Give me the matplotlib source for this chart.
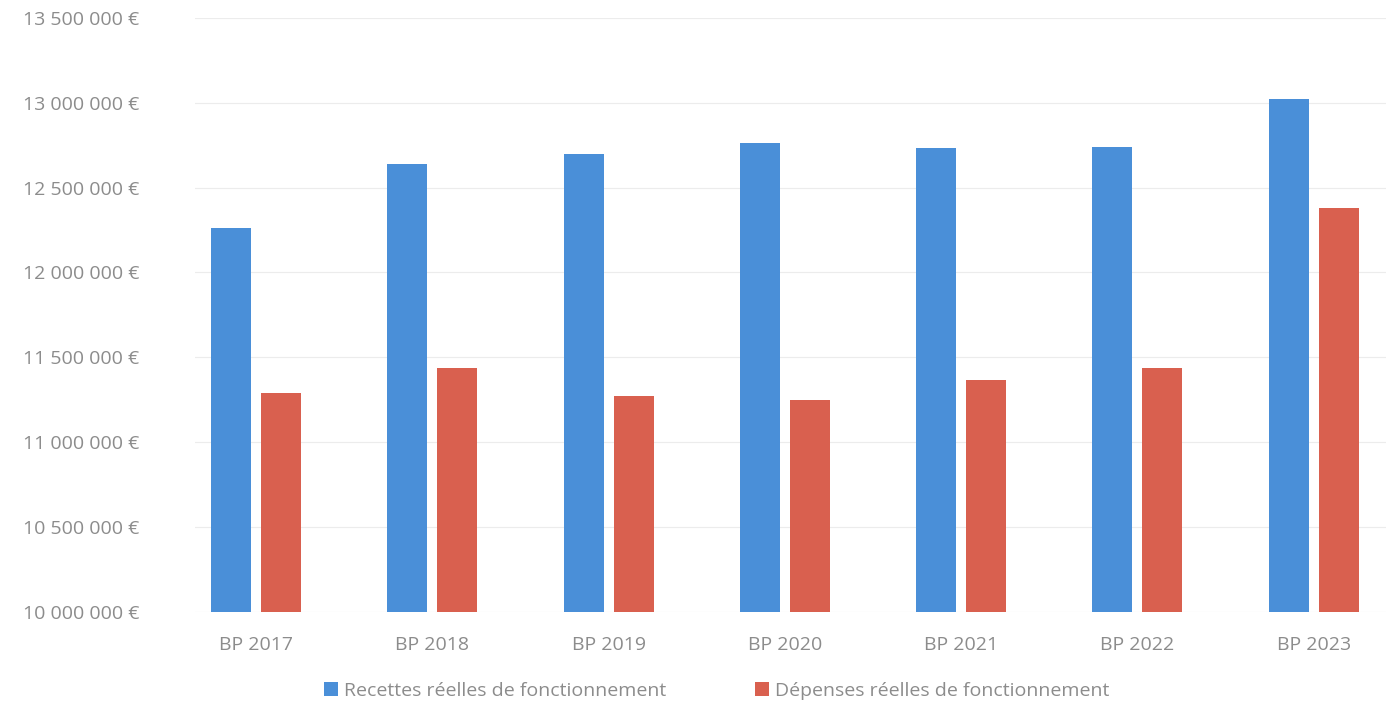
import matplotlib
matplotlib.use("Agg")
import matplotlib.pyplot as plt
from matplotlib.ticker import FuncFormatter
import numpy as np

plt.rcParams['font.family'] = ['Open Sans', 'DejaVu Sans']

## data
years = ["BP 2017", "BP 2018", "BP 2019", "BP 2020", "BP 2021", "BP 2022", "BP 2023"]
recettes = [12260000, 12640000, 12700000, 12760000, 12730000, 12740000, 13020000]
depenses = [11290000, 11435000, 11270000, 11250000, 11365000, 11440000, 12380000]
series_names = ["Recettes réelles de fonctionnement", "Dépenses réelles de fonctionnement"]
##

blue = '#4a8fd8'
red = '#d9604f'
text_col = '#8c8c8c'

fig = plt.figure(figsize=(13.86, 7.10), dpi=100)
ax = fig.add_axes([0.1407, 0.138, 0.8593, 0.837])

x = np.arange(len(years))
w = 0.227
ax.bar(x - 0.142, recettes, w, color=blue, label=series_names[0], zorder=2)
ax.bar(x + 0.142, depenses, w, color=red, label=series_names[1], zorder=2)

ax.set_xlim(-0.346, 6.41)
ax.set_ylim(10000000, 13500000)
ax.set_yticks(np.arange(10000000, 13500001, 500000))
ax.yaxis.set_major_formatter(FuncFormatter(lambda v, p: f"{v:,.0f}".replace(',', ' ') + " €"))
ax.set_xticks(x)
ax.set_xticklabels(years)

ax.grid(axis='y', color='#ececec', linewidth=0.8, zorder=0)
for s in ax.spines.values():
    s.set_visible(False)
ax.tick_params(axis='both', length=0, labelcolor=text_col, labelsize=14)
ax.tick_params(axis='y', pad=40)
ax.tick_params(axis='x', pad=17)

leg = fig.legend(loc='lower center', bbox_to_anchor=(0.517, -0.01), ncol=2, frameon=False,
                 handlelength=0.7, handleheight=0.7, handletextpad=0.3, columnspacing=4.6,
                 prop={'size': 14})
for t in leg.get_texts():
    t.set_color(text_col)

fig.savefig("out.png", dpi=100)
